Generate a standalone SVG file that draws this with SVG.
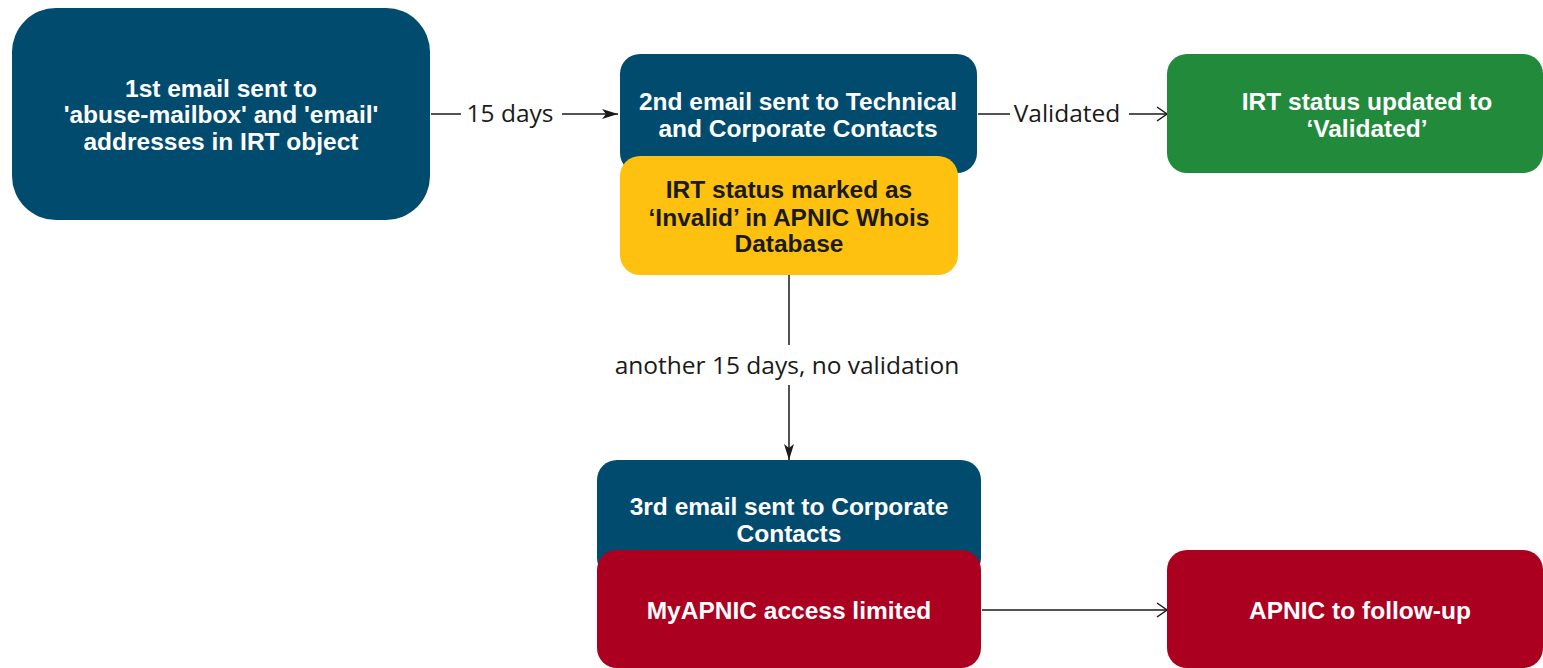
<svg xmlns="http://www.w3.org/2000/svg" width="1543" height="668" viewBox="0 0 1543 668">
<defs>
<style>
.nt{font-family:"Liberation Sans",Arial,sans-serif;font-weight:bold;font-size:24.5px;text-anchor:middle;fill:#ffffff}
.dk{fill:#1a1a1a}
.el{font-family:"Open Sans","Noto Sans",sans-serif;font-size:24.5px;fill:#1a1a1a;text-anchor:middle}
.ln{stroke:#1a1a1a;stroke-width:1.5;fill:none}
.blue{fill:#014b6f}
.green{fill:#218a3b}
.yellow{fill:#fec10f}
.red{fill:#ac0021}
</style>
<marker id="fa" viewBox="0 0 16 10" refX="16" refY="5" markerWidth="16" markerHeight="10" markerUnits="userSpaceOnUse" orient="auto">
<path d="M0,0 L16,5 L0,10 L4,5 Z" fill="#1a1a1a"/>
</marker>
<marker id="oa" viewBox="0 0 12 16" refX="11" refY="8" markerWidth="12" markerHeight="16" markerUnits="userSpaceOnUse" orient="auto">
<path d="M1,1 L11,8 L1,15" fill="none" stroke="#1a1a1a" stroke-width="1.5"/>
</marker>
</defs>
<rect width="1543" height="668" fill="#ffffff"/>

<g id="connectors">
<line class="ln" x1="431" y1="114" x2="461" y2="114"/>
<text class="el" x="510" y="122">15 days</text>
<line class="ln" x1="562" y1="114" x2="618" y2="114" marker-end="url(#fa)"/>
<line class="ln" x1="978" y1="114" x2="1010" y2="114"/>
<text class="el" x="1067" y="122">Validated</text>
<line class="ln" x1="1129" y1="114" x2="1167" y2="114" marker-end="url(#oa)"/>
<line class="ln" x1="789" y1="275" x2="789" y2="345"/>
<text class="el" x="787" y="374">another 15 days, no validation</text>
<line class="ln" x1="789" y1="385" x2="789" y2="460" marker-end="url(#fa)"/>
<line class="ln" x1="982" y1="610" x2="1167" y2="610" marker-end="url(#oa)"/>
</g>

<g id="node-first-email">
<rect class="blue" x="12" y="8" width="418" height="212" rx="44"/>
<text class="nt" x="221" y="97">1st email sent to</text>
<text class="nt" x="221" y="123">'abuse-mailbox' and 'email'</text>
<text class="nt" x="221" y="150">addresses in IRT object</text>
</g>

<g id="node-second-email">
<rect class="blue" x="620" y="54" width="357" height="119" rx="20"/>
<text class="nt" x="798" y="110">2nd email sent to Technical</text>
<text class="nt" x="798" y="137">and Corporate Contacts</text>
</g>

<g id="node-invalid">
<rect class="yellow" x="620" y="156" width="338" height="119" rx="20"/>
<text class="nt dk" x="789" y="198">IRT status marked as</text>
<text class="nt dk" x="789" y="226">‘Invalid’ in APNIC Whois</text>
<text class="nt dk" x="789" y="252">Database</text>
</g>

<g id="node-validated">
<rect class="green" x="1167" y="54" width="376" height="119" rx="20"/>
<text class="nt" x="1367" y="110">IRT status updated to</text>
<text class="nt" x="1367" y="137">‘Validated’</text>
</g>

<g id="node-third-email">
<rect class="blue" x="597" y="460" width="384" height="118" rx="20"/>
<text class="nt" x="789" y="515">3rd email sent to Corporate</text>
<text class="nt" x="789" y="542">Contacts</text>
</g>

<g id="node-myapnic">
<rect class="red" x="597" y="550" width="384" height="118" rx="20"/>
<text class="nt" x="789" y="619">MyAPNIC access limited</text>
</g>

<g id="node-followup">
<rect class="red" x="1167" y="550" width="376" height="118" rx="20"/>
<text class="nt" x="1360" y="619">APNIC to follow-up</text>
</g>
</svg>
